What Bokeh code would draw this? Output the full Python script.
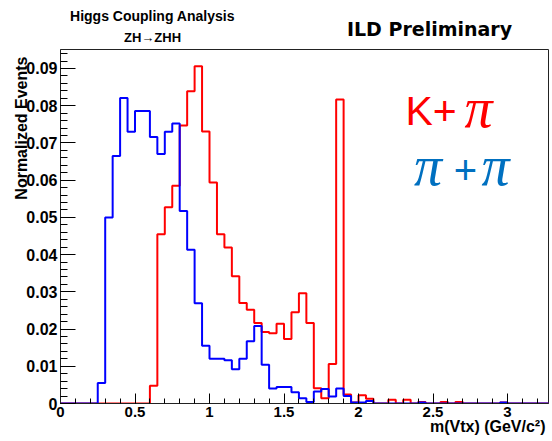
import numpy as np
from bokeh.plotting import figure
from bokeh.layouts import column
from bokeh.models import FixedTicker, Label, CustomJSTickFormatter, Range1d, Title
from bokeh.core.properties import value
from bokeh.embed import file_html
from bokeh.resources import INLINE

# ---- data -------------------------------------------------------------
bin_width = 0.05
blue_pipi = [
    0, 0, 0, 0, 0,
    0.0055, 0.0500, 0.0665, 0.0821, 0.0730,
    0.0786, 0.0786, 0.0716, 0.0670, 0.0730,
    0.0752, 0.0517, 0.0413, 0.0269, 0.0155,
    0.0120, 0.0120, 0.0116, 0.0092, 0.0120,
    0.0167, 0.0208, 0.0104, 0.0040, 0.0044,
    0.0044, 0.0030, 0.0014, 0.0004, 0.0032,
    0.0039, 0.0019, 0.0040, 0.0020, 0.0003,
    0.0003, 0.0007, 0, 0, 0,
    0, 0, 0, 0.0003, 0,
    0, 0, 0, 0, 0,
    0, 0, 0, 0, 0.0003,
    0, 0, 0, 0, 0, 0,
]
red_kpi = [
    0, 0, 0, 0, 0,
    0, 0, 0, 0, 0,
    0, 0, 0.0048, 0.0455, 0.0527,
    0.0585, 0.0747, 0.0839, 0.0906, 0.0731,
    0.0594, 0.0455, 0.0419, 0.0342, 0.0270,
    0.0252, 0.0216, 0.0192, 0.0189, 0.0214,
    0.0173, 0.0245, 0.0296, 0.0216, 0.0041,
    0.0014, 0.0106, 0.0817, 0.0024, 0.0003,
    0.0022, 0.0013, 0, 0, 0.0010,
    0, 0.0010, 0, 0.0004, 0,
    0, 0.0004, 0, 0.0004, 0,
    0, 0, 0, 0, 0.0003,
    0, 0, 0, 0, 0, 0,
]
x_ticks = [0, 0.5, 1, 1.5, 2, 2.5, 3]
y_ticks = [0, 0.01, 0.02, 0.03, 0.04, 0.05, 0.06, 0.07, 0.08, 0.09]
header_texts = ["Higgs Coupling Analysis", "ZH\u2192ZHH", "ILD Preliminary"]
x_title = "m(Vtx) (GeV/c\u00b2)"
y_title = "Normalized Events"

W, H = 552, 441
HEAD_H = 48
FRAME_L, FRAME_R = 60, 548   # frame edges in page pixels

# ---- header strip (titles above the frame) -----------------------------
# the column aligns this strip's frame with the main frame, so its x range
# spans the frame's pixel columns
head = figure(width=W, height=HEAD_H, output_backend="svg", toolbar_location=None,
              x_range=Range1d(FRAME_L, FRAME_R), y_range=Range1d(HEAD_H, 0),
              x_axis_type=None, y_axis_type=None, min_border=0)
head.outline_line_color = None
head.grid.visible = False
head.text(x=[152], y=[15], text=[header_texts[0]], text_font=value("Liberation Sans"),
          text_font_style="bold", text_font_size="14px", text_align="center",
          text_baseline="middle", text_color="black")
head.text(x=[152], y=[37], text=[header_texts[1]], text_font=value("Liberation Sans"),
          text_font_style="bold", text_font_size="13px", text_align="center",
          text_baseline="middle", text_color="black")
head.text(x=[429], y=[28], text=[header_texts[2]], text_font=value("DejaVu Sans"),
          text_font_style="bold", text_font_size="19px", text_align="center",
          text_baseline="middle", text_color="black")

# ---- main figure ---------------------------------------------------------
p = figure(width=W, height=H - HEAD_H, output_backend="svg", toolbar_location=None,
           x_range=Range1d(0, 3.275), y_range=Range1d(0, 0.0951),
           min_border_left=FRAME_L, min_border_right=W - FRAME_R, min_border_top=1,
           min_border_bottom=38)
p.grid.visible = False
p.outline_line_color = "#222222"
p.outline_line_width = 1
p.background_fill_color = "white"
p.border_fill_color = "white"


def step_path(vals):
    n = len(vals)
    edges = np.arange(n + 1) * bin_width
    xs = np.repeat(edges, 2)[1:-1]
    ys = np.repeat(np.asarray(vals, dtype=float), 2)
    return xs, ys


rx, ry = step_path(red_kpi)
bx, by = step_path(blue_pipi)
p.line(rx, ry, line_color="#ff0000", line_width=2)
p.line(bx, by, line_color="#0000ff", line_width=2)

fmt = CustomJSTickFormatter(code="return String(Number(tick.toFixed(3)));")

xminor = [round(0.1 * k, 2) for k in range(0, 33)]
yminor = [round(0.002 * k, 4) for k in range(0, 48)]

xa = p.xaxis[0]
xa.ticker = FixedTicker(ticks=x_ticks, minor_ticks=xminor)
xa.formatter = fmt
xa.major_tick_in = 10
xa.major_tick_out = 0
xa.minor_tick_in = 5
xa.minor_tick_out = 0
xa.major_label_standoff = 3
xa.major_label_text_font = "Liberation Sans"
xa.major_label_text_font_style = "bold"
xa.major_label_text_font_size = "15px"
xa.major_label_text_color = "black"
xa.axis_line_color = "#222222"

ya = p.yaxis[0]
ya.ticker = FixedTicker(ticks=y_ticks, minor_ticks=yminor)
ya.formatter = fmt
ya.major_tick_in = 15
ya.major_tick_out = 0
ya.minor_tick_in = 7
ya.minor_tick_out = 0
ya.major_label_standoff = 3
ya.major_label_text_font = "Liberation Sans"
ya.major_label_text_font_style = "bold"
ya.major_label_text_font_size = "16px"
ya.major_label_text_color = "black"
ya.axis_line_color = "#222222"

# axis titles as side-panel titles (right/top aligned like ROOT)
p.add_layout(Title(text=x_title, align="right", offset=3, standoff=-7,
                   text_font="Liberation Sans", text_font_style="bold",
                   text_font_size="16px", text_color="black"), "below")
p.add_layout(Title(text=y_title, align="right", offset=7, standoff=-12,
                   text_font="Liberation Sans", text_font_style="bold",
                   text_font_size="16px", text_color="black"), "left")


# ---- in-frame texts ------------------------------------------------------
def add_label(text, x, y, size, color="black", style="normal", font="Liberation Sans",
              align="center", baseline="alphabetic"):
    p.add_layout(Label(x=x, y=y, text=text, text_font=font, text_font_size=size,
                       text_font_style=style, text_color=color, text_align=align,
                       text_baseline=baseline))


add_label("K+", 2.315, 0.0787, "41px", color="#ff0000", align="left")
add_label("\u03c0", 2.805, 0.0795, "56px", color="#ff0000", style="italic",
          font="Liberation Serif")
add_label("\u03c0", 2.466, 0.0639, "56px", color="#0070c0", style="italic",
          font="Liberation Serif")
add_label("+", 2.718, 0.0628, "40px", color="#0070c0")
add_label("\u03c0", 2.919, 0.0639, "56px", color="#0070c0", style="italic",
          font="Liberation Serif")

layout = column(head, p, spacing=0)
open("out.html", "w").write(file_html(layout, INLINE))
